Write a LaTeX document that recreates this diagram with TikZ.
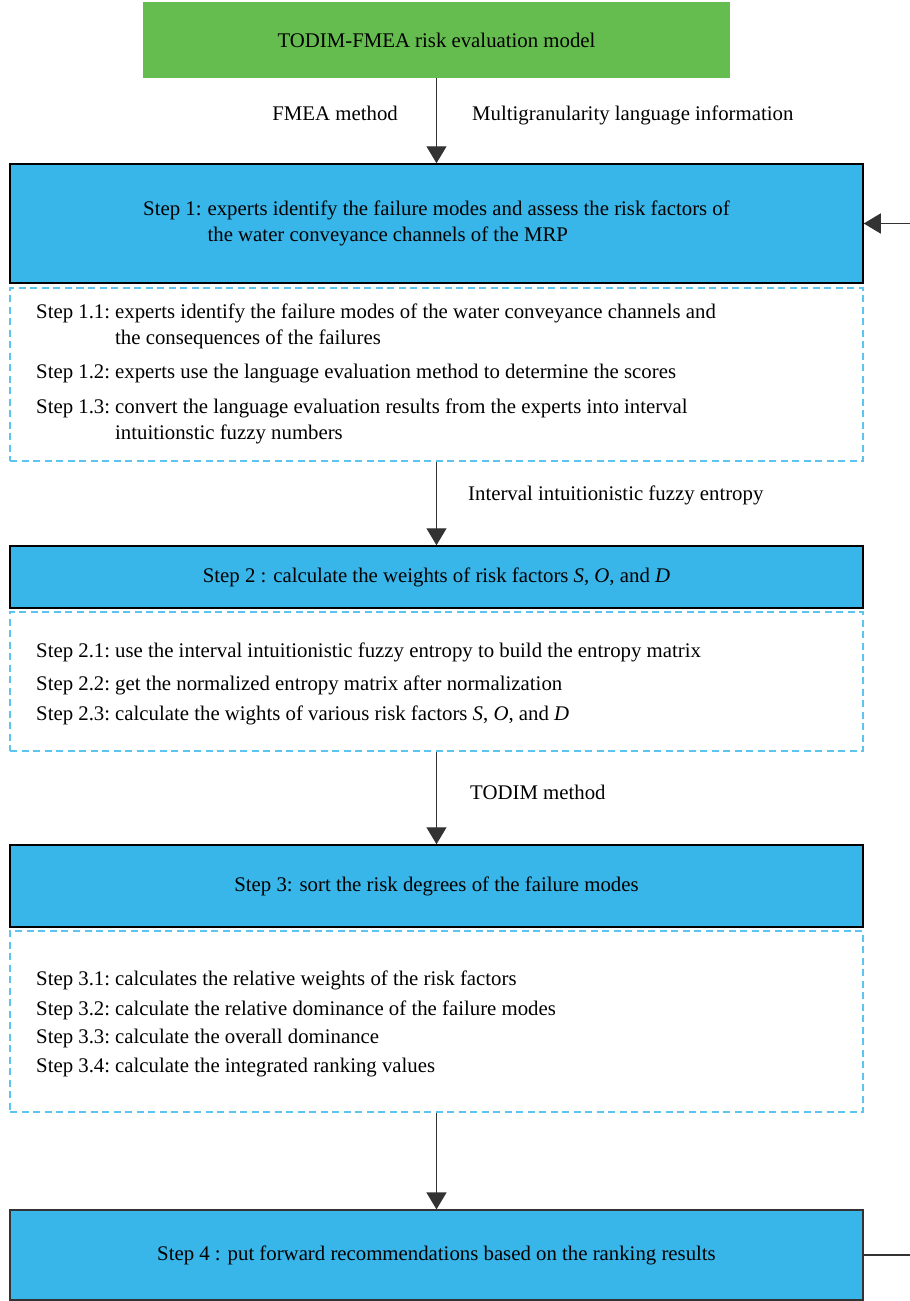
\documentclass[tikz,border=0pt]{standalone}
\usepackage{fontspec}
\setmainfont{Liberation Serif}
\usetikzlibrary{arrows.meta}
\definecolor{stepblue}{HTML}{38B6E9}
\definecolor{topgreen}{HTML}{65BC4F}
\definecolor{dashblue}{HTML}{5BC5F0}
\definecolor{linegray}{HTML}{333333}
\tikzset{
  txt/.style={font=\fontsize{20.8}{26}\selectfont, inner sep=0pt, text=black},
  stepbox/.style={draw=black, line width=1.5pt, fill=stepblue, minimum width=853pt, inner sep=0pt, txt},
  dashbox/.style={draw=dashblue, line width=1.3pt, dash pattern=on 7pt off 4.5pt, minimum width=853pt, inner sep=0pt},
  flow/.style={draw=linegray, line width=1.4pt, -{Triangle[length=17pt,width=20pt]}},
  item/.style={txt, anchor=west},
  lbl/.style={txt, anchor=mid west},
}
\newcommand{\stepitem}[2]{\begin{tabular}{@{}p{79pt}@{}l@{}}#1 & #2\end{tabular}}
\begin{document}
\begin{tikzpicture}[x=1pt,y=-1pt]
\useasboundingbox (0,0) rectangle (910,1301);
% boxes
\node[fill=topgreen, minimum width=587pt, minimum height=76pt, inner sep=0pt, txt] (top) at (436.5,40) {TODIM-FMEA risk evaluation model};
\node[stepbox, minimum height=119pt] (s1) at (436.5,223.5) {\begin{tabular}{@{}l@{\hspace{6pt}}l@{}}Step 1: & experts identify the failure modes and assess the risk factors of\\ & the water conveyance channels of the MRP\end{tabular}};
\node[dashbox, minimum height=173pt] (d1) at (436.5,374.5) {};
\node[stepbox, minimum height=62pt] (s2) at (436.5,577) {Step 2 : calculate the weights of risk factors \textit{S}, \textit{O}, and \textit{D}};
\node[dashbox, minimum height=139pt] (d2) at (436.5,681.5) {};
\node[stepbox, minimum height=82pt] (s3) at (436.5,886) {Step 3: sort the risk degrees of the failure modes};
\node[dashbox, minimum height=181pt] (d3) at (436.5,1021.5) {};
\node[stepbox, draw=linegray, line width=1.2pt, minimum height=90pt] (s4) at (436.5,1255) {Step 4 : put forward recommendations based on the ranking results};
% items
\node[item] (i11) at (36,326) {\stepitem{Step 1.1:}{experts identify the failure modes of the water conveyance channels and\\ & the consequences of the failures}};
\node[item] (i12) at (36,373) {\stepitem{Step 1.2:}{experts use the language evaluation method to determine the scores}};
\node[item] (i13) at (36,421) {\stepitem{Step 1.3:}{convert the language evaluation results from the experts into interval\\ & intuitionstic fuzzy numbers}};
\node[item] (i21) at (36,652) {\stepitem{Step 2.1:}{use the interval intuitionistic fuzzy entropy to build the entropy matrix}};
\node[item] (i22) at (36,685) {\stepitem{Step 2.2:}{get the normalized entropy matrix after normalization}};
\node[item] (i23) at (36,715) {\stepitem{Step 2.3:}{calculate the wights of various risk factors \textit{S}, \textit{O}, and \textit{D}}};
\node[item] (i31) at (36,980) {\stepitem{Step 3.1:}{calculates the relative weights of the risk factors}};
\node[item] (i32) at (36,1010) {\stepitem{Step 3.2:}{calculate the relative dominance of the failure modes}};
\node[item] (i33) at (36,1038) {\stepitem{Step 3.3:}{calculate the overall dominance}};
\node[item] (i34) at (36,1067) {\stepitem{Step 3.4:}{calculate the integrated ranking values}};
% arrow labels
\node[txt, anchor=mid east] (la) at (398,118) {FMEA method};
\node[lbl] (lb) at (472,118) {Multigranularity language information};
\node[lbl] (lc) at (468,498) {Interval intuitionistic fuzzy entropy};
\node[lbl] (ld) at (470,797) {TODIM method};
% connectors
\draw[flow] (top.south) -- (s1.north);
\draw[flow] (d1.south) -- (s2.north);
\draw[flow] (d2.south) -- (s3.north);
\draw[flow] (d3.south) -- (s4.north);
\coordinate (fb1) at (910,223.5);
\coordinate (fb4) at (910,1255);
\draw[flow] (fb1) -- (s1.east);
\draw[draw=linegray, line width=1.4pt] (s4.east) -- (fb4);
\end{tikzpicture}
\end{document}
